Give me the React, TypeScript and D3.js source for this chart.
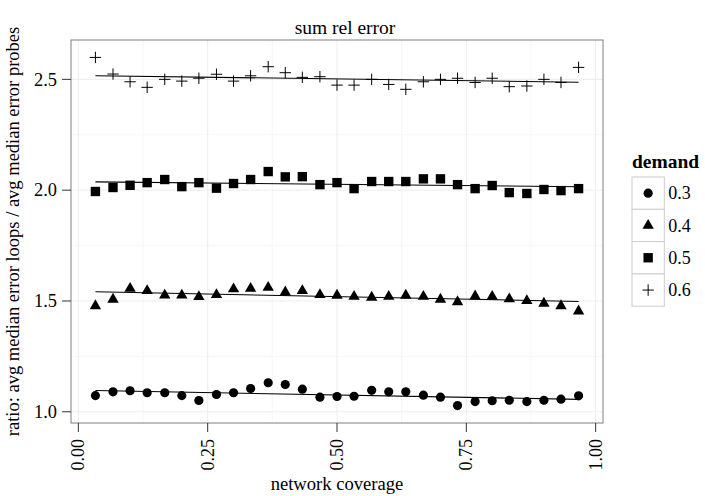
import React from "react";
import * as d3 from "d3";

const coverage = [0.033, 0.067, 0.1, 0.133, 0.167, 0.2, 0.233, 0.267, 0.3, 0.333, 0.367, 0.4, 0.433, 0.467, 0.5, 0.533, 0.567, 0.6, 0.633, 0.667, 0.7, 0.733, 0.767, 0.8, 0.833, 0.867, 0.9, 0.933, 0.967];
const demands = ["0.3", "0.4", "0.5", "0.6"];
const ratio03 = [1.073, 1.09, 1.095, 1.086, 1.086, 1.073, 1.051, 1.078, 1.086, 1.105, 1.131, 1.123, 1.102, 1.066, 1.069, 1.07, 1.097, 1.09, 1.09, 1.075, 1.066, 1.028, 1.046, 1.05, 1.052, 1.046, 1.052, 1.057, 1.072];
const ratio04 = [1.478, 1.507, 1.556, 1.546, 1.526, 1.526, 1.519, 1.528, 1.554, 1.556, 1.561, 1.54, 1.546, 1.528, 1.525, 1.52, 1.516, 1.52, 1.525, 1.52, 1.507, 1.496, 1.522, 1.52, 1.509, 1.501, 1.489, 1.478, 1.454];
const ratio05 = [1.994, 2.012, 2.022, 2.034, 2.048, 2.016, 2.034, 2.009, 2.03, 2.048, 2.084, 2.06, 2.061, 2.025, 2.034, 2.007, 2.039, 2.039, 2.039, 2.051, 2.051, 2.025, 2.007, 2.021, 1.989, 1.985, 2.003, 1.998, 2.007];
const ratio06 = [2.599, 2.524, 2.489, 2.464, 2.5, 2.492, 2.505, 2.523, 2.492, 2.516, 2.557, 2.53, 2.509, 2.512, 2.474, 2.474, 2.5, 2.477, 2.455, 2.489, 2.5, 2.505, 2.486, 2.505, 2.467, 2.47, 2.5, 2.486, 2.554];
const xTicks = [0, 0.25, 0.5, 0.75, 1];
const xTickLabels = ["0.00", "0.25", "0.50", "0.75", "1.00"];
const yTicks = [1.0, 1.5, 2.0, 2.5];
const yTickLabels = ["1.0", "1.5", "2.0", "2.5"];
const xMinor = [0.125, 0.375, 0.625, 0.875];
const yMinor = [1.25, 1.75, 2.25];

const seriesValues = [ratio03, ratio04, ratio05, ratio06];

const FONT = "'Liberation Serif', 'Times New Roman', serif";

const plusSymbol = {
  draw(context: any, size: number) {
    const r = Math.sqrt(size) / 2;
    context.moveTo(-r, 0);
    context.lineTo(r, 0);
    context.moveTo(0, -r);
    context.lineTo(0, r);
  },
};

const shapes: any[] = [d3.symbolCircle, d3.symbolTriangle, d3.symbolSquare, plusSymbol];
const sizes = [66, 56, 88, 130];

function fit(xs: number[], ys: number[]) {
  const mx = d3.mean(xs)!;
  const my = d3.mean(ys)!;
  let num = 0, den = 0;
  xs.forEach((x, i) => {
    num += (x - mx) * (ys[i] - my);
    den += (x - mx) * (x - mx);
  });
  const b = num / den;
  return (x: number) => my + b * (x - mx);
}

export default function App() {
  const W = 705, H = 496;
  const left = 71, right = 603, top = 40, bottom = 423;
  const tickLen = 9;

  const xExt = d3.extent(coverage) as [number, number];
  const xPad = (xExt[1] - xExt[0]) * 0.05;
  const x = d3.scaleLinear().domain([xExt[0] - xPad - 0.0005, xExt[1] + xPad + 0.0005]).range([left, right]);

  const allY = seriesValues.flat();
  const yExt = d3.extent(allY) as [number, number];
  const yPad = (yExt[1] - yExt[0]) * 0.05;
  const y = d3.scaleLinear().domain([yExt[0] - yPad, yExt[1] + yPad]).range([bottom, top]);

  const line = d3.line<[number, number]>().x((d) => x(d[0])).y((d) => y(d[1]));

  const legendX = 632, legendTop = 177, keySize = 32.3;

  return (
    <svg width={W} height={H} style={{ position: "absolute", left: 0, top: 0, background: "#fff" }} fontFamily={FONT}>
      <rect x={0} y={0} width={W} height={H} fill="#fff" />
      {/* panel */}
      <rect x={left} y={top} width={right - left} height={bottom - top} fill="#fff" />
      {xMinor.map((v) => (
        <line key={"xm" + v} x1={x(v)} x2={x(v)} y1={top} y2={bottom} stroke="#F7F7F7" strokeWidth={1.2} />
      ))}
      {yMinor.map((v) => (
        <line key={"ym" + v} x1={left} x2={right} y1={y(v)} y2={y(v)} stroke="#F7F7F7" strokeWidth={1.2} />
      ))}
      {xTicks.map((v) => (
        <line key={"xg" + v} x1={x(v)} x2={x(v)} y1={top} y2={bottom} stroke="#E8E8E8" strokeWidth={0.8} />
      ))}
      {yTicks.map((v) => (
        <line key={"yg" + v} x1={left} x2={right} y1={y(v)} y2={y(v)} stroke="#E8E8E8" strokeWidth={0.8} />
      ))}

      {/* regression lines */}
      {seriesValues.map((vals, si) => {
        const f = fit(coverage, vals);
        const pts: [number, number][] = [
          [xExt[0], f(xExt[0])],
          [xExt[1], f(xExt[1])],
        ];
        return <path key={"fit" + si} d={line(pts)!} fill="none" stroke="#000" strokeWidth={1.1} />;
      })}

      {/* points */}
      {seriesValues.map((vals, si) => {
        const sym = d3.symbol().type(shapes[si]).size(sizes[si]);
        const isPlus = si === 3;
        return (
          <g key={"s" + si}>
            {vals.map((v, i) => (
              <path
                key={i}
                transform={`translate(${x(coverage[i])},${y(v)})`}
                d={sym()!}
                fill={isPlus ? "none" : "#000"}
                stroke={isPlus ? "#000" : "none"}
                strokeWidth={isPlus ? 1 : 0}
              />
            ))}
          </g>
        );
      })}

      <rect x={left} y={top} width={right - left} height={bottom - top} fill="none" stroke="#7F7F7F" strokeWidth={1} />

      {/* x axis */}
      {xTicks.map((v, i) => (
        <g key={"xt" + v}>
          <line x1={x(v)} x2={x(v)} y1={bottom} y2={bottom + tickLen} stroke="#333" strokeWidth={1} />
          <text
            transform={`translate(${x(v)},${bottom + 16}) rotate(-90)`}
            textAnchor="end"
            dy="0.34em"
            fontSize={18}
            fill="#000"
          >
            {xTickLabels[i]}
          </text>
        </g>
      ))}
      {/* y axis */}
      {yTicks.map((v, i) => (
        <g key={"yt" + v}>
          <line x1={left - tickLen} x2={left} y1={y(v)} y2={y(v)} stroke="#333" strokeWidth={1} />
          <text x={left - 14} y={y(v)} dy="0.34em" textAnchor="end" fontSize={18.4} fill="#000">
            {yTickLabels[i]}
          </text>
        </g>
      ))}

      <text x={345} y={34} textAnchor="middle" fontSize={19.5} fill="#000">
        sum rel error
      </text>
      <text x={(left + right) / 2} y={490} textAnchor="middle" fontSize={18.6} fill="#000">
        network coverage
      </text>
      <text
        transform={`translate(19,${(top + bottom) / 2}) rotate(-90)`}
        textAnchor="middle"
        fontSize={18.5}
        fill="#000"
      >
        ratio: avg median error loops / avg median error probes
      </text>

      {/* legend */}
      <text x={legendX} y={168} fontSize={19.5} fontWeight="bold" fill="#000">
        demand
      </text>
      {demands.map((dname, i) => {
        const ky = legendTop + i * keySize;
        const sym = d3.symbol().type(shapes[i]).size(sizes[i]);
        const isPlus = i === 3;
        return (
          <g key={"lg" + dname}>
            <rect x={legendX} y={ky} width={keySize} height={keySize} fill="#fff" stroke="#CCCCCC" strokeWidth={1} />
            <path
              transform={`translate(${legendX + keySize / 2},${ky + keySize / 2})`}
              d={sym()!}
              fill={isPlus ? "none" : "#000"}
              stroke={isPlus ? "#000" : "none"}
              strokeWidth={isPlus ? 1 : 0}
            />
            <text x={legendX + keySize + 4} y={ky + keySize / 2} dy="0.34em" fontSize={18} fill="#000">
              {dname}
            </text>
          </g>
        );
      })}
    </svg>
  );
}
